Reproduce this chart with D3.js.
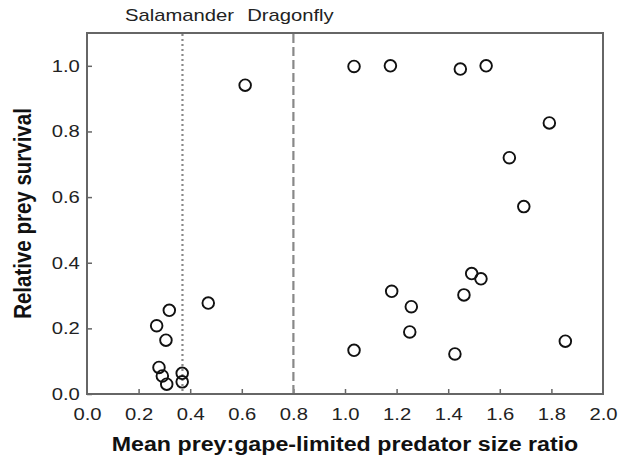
<!DOCTYPE html>
<html><head><meta charset="utf-8">
<script src="https://cdn.jsdelivr.net/npm/d3@7"></script>
<style>body{margin:0;background:#fff}svg{display:block}text{font-family:"Liberation Sans",Arial,sans-serif}</style>
</head><body><svg id="c" width="627" height="469"></svg>
<script>
const xVals = [0.470,0.319,0.270,0.306,0.279,0.292,0.309,0.369,0.369,0.613,
  1.035,1.176,1.447,1.547,1.792,1.637,1.693,1.491,1.527,1.461,1.181,1.257,1.251,1.035,1.426,1.854];
const yVals = [0.277,0.255,0.208,0.164,0.081,0.055,0.030,0.063,0.037,0.941,
  0.998,1.000,0.990,1.000,0.826,0.720,0.571,0.367,0.351,0.302,0.313,0.266,0.189,0.133,0.122,0.161];
const xTicks = [0,0.2,0.4,0.6,0.8,1.0,1.2,1.4,1.6,1.8,2.0];
const yTicks = [0,0.2,0.4,0.6,0.8,1.0];
const refLines = [{x:0.37,label:"Salamander",dash:"2,3"},{x:0.8,label:"Dragonfly",dash:"9,4"}];

const SX = 1.19; // horizontal stretch of the original figure
const svg = d3.select("#c");
const L=87,R=603,T=33,B=394;
const x = d3.scaleLinear().domain([0,2]).range([L,R]);
const y = d3.scaleLinear().domain([0,1.1]).range([B,T]);

const fmt = d3.format(".1f");
const gx = svg.append("g").attr("transform",`translate(0,${B})`)
  .call(d3.axisBottom(x).tickValues(xTicks).tickFormat(fmt).tickSizeInner(-5).tickSizeOuter(0).tickPadding(14));
const gy = svg.append("g").attr("transform",`translate(${L},0)`)
  .call(d3.axisLeft(y).tickValues(yTicks).tickFormat(fmt).tickSizeInner(-5).tickSizeOuter(0).tickPadding(6));
[gx,gy].forEach(g=>{
  g.select(".domain").remove();
  g.selectAll(".tick line").attr("stroke","#666").attr("stroke-width",1.5);
  g.selectAll(".tick text").attr("font-size",17).attr("fill","#222")
   .style("font-family",'"Liberation Sans",Arial,sans-serif')
   .attr("transform",`scale(${SX},1)`);
});
gx.selectAll(".tick").filter(d=>d===0||d===2).select("line").remove();

// frame
svg.append("rect").attr("x",L).attr("y",T).attr("width",R-L).attr("height",B-T)
  .attr("fill","none").attr("stroke","#666").attr("stroke-width",2);

// reference lines
refLines.forEach(r=>{
  svg.append("line").attr("x1",x(r.x)).attr("x2",x(r.x)).attr("y1",T+1).attr("y2",B-1)
    .attr("stroke","#888").attr("stroke-width",2.2).attr("stroke-dasharray",r.dash);
  svg.append("text").attr("transform",`translate(${x(r.x)-3},21) scale(${SX},1)`).attr("text-anchor","middle")
    .attr("font-size",17).attr("fill","#222").text(r.label);
});

// points
svg.append("g").selectAll("circle").data(xVals.map((v,i)=>[v,yVals[i]])).join("circle")
  .attr("cx",d=>x(d[0])).attr("cy",d=>y(d[1])).attr("r",5.8)
  .attr("fill","none").attr("stroke","#111").attr("stroke-width",1.9);

// axis titles
svg.append("text").attr("transform",`translate(${(L+R)/2},451) scale(${SX},1)`).attr("text-anchor","middle")
  .attr("font-size",19.5).attr("font-weight","bold").attr("fill","#111")
  .text("Mean prey:gape-limited predator size ratio");
svg.append("text").attr("transform",`translate(31,${(T+B)/2}) rotate(-90) scale(1,${SX})`).attr("text-anchor","middle")
  .attr("font-size",20.5).attr("font-weight","bold").attr("fill","#111")
  .text("Relative prey survival");
</script></body></html>
